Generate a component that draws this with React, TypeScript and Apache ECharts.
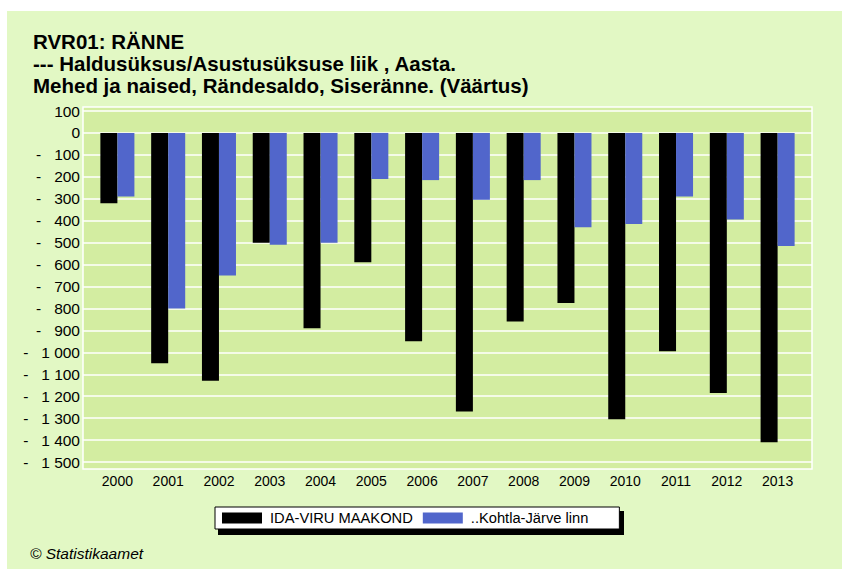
import React, { useEffect, useRef } from "react";
import * as echarts from "echarts";

const years = ["2000","2001","2002","2003","2004","2005","2006","2007","2008","2009","2010","2011","2012","2013"];
const idaViru = [-320, -1050, -1130, -500, -890, -590, -950, -1270, -860, -775, -1305, -995, -1185, -1410];
const kohtlaJarve = [-290, -800, -650, -510, -500, -210, -215, -305, -215, -430, -415, -290, -395, -515];
const seriesNames = ["IDA-VIRU MAAKOND", "..Kohtla-Järve linn"];
const titleLines = [
  "RVR01: RÄNNE",
  "--- Haldusüksus/Asustusüksuse liik , Aasta.",
  "Mehed ja naised, Rändesaldo, Siseränne. (Väärtus)",
];
const yMin = -1500;
const yMax = 100;
const yStep = 100;

const FONT = "'Liberation Sans', Arial, sans-serif";
const NB = "\u00a0";

function fmt(v: number): string {
  const a = Math.abs(v);
  let s: string;
  if (a >= 1000) {
    const r = a % 1000;
    s = Math.floor(a / 1000) + NB + String(r).padStart(3, "0");
  } else s = String(a);
  return v < 0 ? "-" + NB + NB + NB + s : s;
}

export default function App() {
  const ref = useRef<HTMLDivElement>(null);
  useEffect(() => {
    if (!ref.current) return;
    const chart = echarts.init(ref.current, undefined, { renderer: "svg" });
    chart.setOption({
      animation: false,
      backgroundColor: "#ffffff",
      textStyle: { fontFamily: FONT },
      title: {
        text: titleLines.join("\n"),
        left: 33,
        top: 31,
        padding: 0,
        textStyle: { fontSize: 20.5, fontWeight: "bold", color: "#000", lineHeight: 21.7, fontFamily: FONT },
      },
      graphic: [
        { type: "rect", z: -10, silent: true, shape: { x: 7, y: 11, width: 835, height: 558 }, style: { fill: "#E2F8C4" } },
        { type: "rect", z: -9, silent: true, shape: { x: 83, y: 107, width: 729, height: 362 }, style: { fill: "#D3EDA1", stroke: "#ffffff", lineWidth: 1.5 } },
        { type: "rect", z: -8, silent: true, shape: { x: 218, y: 511, width: 406, height: 24 }, style: { fill: "#000000" } },
        { type: "text", left: 30, top: 545, style: { text: "© Statistikaamet", font: "italic 15.5px " + FONT, fill: "#000" } },
      ],
      legend: {
        data: seriesNames,
        left: 215,
        top: 507,
        orient: "horizontal",
        backgroundColor: "#ffffff",
        borderColor: "#000",
        borderWidth: 1,
        padding: [3, 31, 3, 7],
        itemGap: 10,
        itemWidth: 40,
        itemHeight: 11,
        icon: "rect",
        textStyle: { fontSize: 14.7, lineHeight: 16, color: "#000", fontFamily: FONT, padding: [0, 0, 0, 3] },
      },
      grid: [
        { left: 83, width: 729, top: 111, bottom: 107 },
        { left: 92, right: 39, top: 111, bottom: 107 },
      ],
      xAxis: [
        { type: "category", gridIndex: 0, data: years, show: false },
        {
          type: "category",
          gridIndex: 1,
          data: years,
          axisLine: { show: false },
          axisTick: { show: false },
          axisLabel: { color: "#000", fontSize: 14, margin: 12, fontFamily: FONT },
        },
      ],
      yAxis: [
        {
          type: "value",
          gridIndex: 0,
          min: yMin,
          max: yMax,
          interval: yStep,
          axisLine: { show: false },
          axisTick: { show: false },
          splitLine: { show: true, lineStyle: { color: "#ffffff", width: 1.5 } },
          axisLabel: { color: "#000", fontSize: 15.5, margin: 3, formatter: fmt, fontFamily: FONT },
        },
        {
          type: "value",
          gridIndex: 1,
          min: yMin,
          max: yMax,
          interval: yStep,
          show: false,
          splitLine: { show: false },
        },
      ],
      series: [
        {
          name: seriesNames[0],
          type: "bar",
          xAxisIndex: 1,
          yAxisIndex: 1,
          data: idaViru,
          barGap: "0%",
          barCategoryGap: "33%",
          itemStyle: { color: "#000000" },
        },
        {
          name: seriesNames[1],
          type: "bar",
          xAxisIndex: 1,
          yAxisIndex: 1,
          data: kohtlaJarve,
          barGap: "0%",
          barCategoryGap: "33%",
          itemStyle: { color: "#5166CB" },
        },
      ],
    });
    return () => chart.dispose();
  }, []);
  return (
    <div
      ref={ref}
      style={{ position: "absolute", left: 0, top: 0, width: 842, height: 569 }}
    />
  );
}
